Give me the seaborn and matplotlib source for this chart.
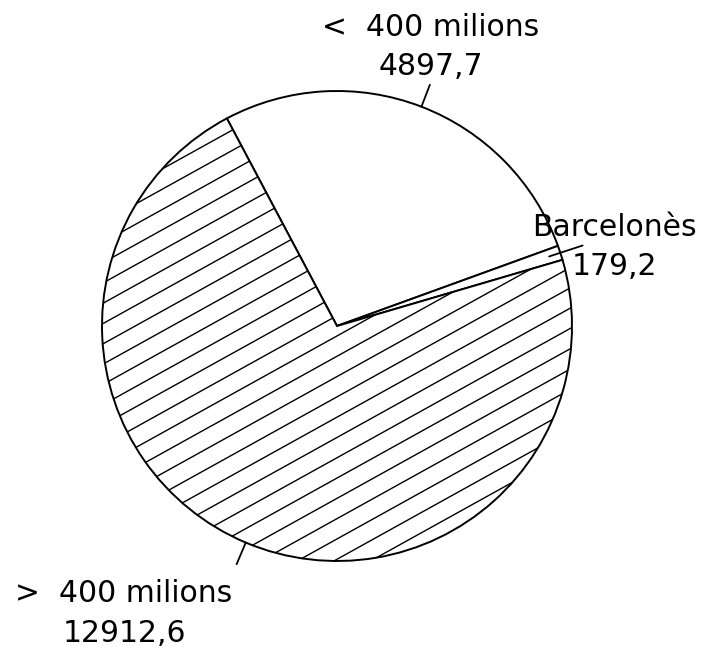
import numpy as np
import matplotlib
matplotlib.use("Agg")
import matplotlib.pyplot as plt
from matplotlib.collections import LineCollection
import seaborn as sns

# Data
categories = ["<  400 milions", "Barcelonès", ">  400 milions"]
values = [4897.7, 179.2, 12912.6]
value_labels = [f"{v:.1f}".replace(".", ",") for v in values]

sns.set_theme(style="white")
plt.rcParams['font.family'] = ['DejaVu Sans']

fig = plt.figure(figsize=(7.21, 6.52), dpi=100)
ax = fig.add_axes([0, 0, 1, 1])

center = (337, 326)
radius = 235

# Pie
wedges, _ = ax.pie(values, startangle=117.95, counterclock=False, center=center,
                   radius=radius, colors=["white"] * 3,
                   wedgeprops=dict(edgecolor="black", linewidth=1.4))
ax.set_xlim(0, 721)
ax.set_ylim(0, 652)
ax.set_aspect("equal")
ax.axis("off")

# Diagonal hatching on the big slice
ang = np.deg2rad(29)
xs = np.array([0, 721])
segs = []
for k in range(-40, 40):
    y0 = 321.3 + k * 20.3
    segs.append(np.column_stack([xs, y0 + np.tan(ang) * (xs - 200)]))
lc = LineCollection(segs, colors="black", linewidths=1.0, zorder=2)
ax.add_collection(lc)
lc.set_clip_path(wedges[2])

# Leader ticks at each slice's middle angle
for i, w in enumerate(wedges):
    mid = np.deg2rad((w.theta1 + w.theta2) / 2)
    r = np.array([0.95 if i == 1 else 1.0, 1.1]) * radius
    ax.plot(center[0] + r * np.cos(mid), center[1] + r * np.sin(mid),
            color="black", lw=1.3, zorder=3)

# Labels (y = baseline of the value line)
label_pos = [(431, 577), (614, 377), (124, 10.5)]
for (x, y), name, val in zip(label_pos, categories, value_labels):
    ax.text(x, y, f"{name}\n{val}", ha="center", va="baseline",
            multialignment="center", fontsize=21.5, linespacing=1.45, color="black")

plt.savefig("out.png", dpi=100)
